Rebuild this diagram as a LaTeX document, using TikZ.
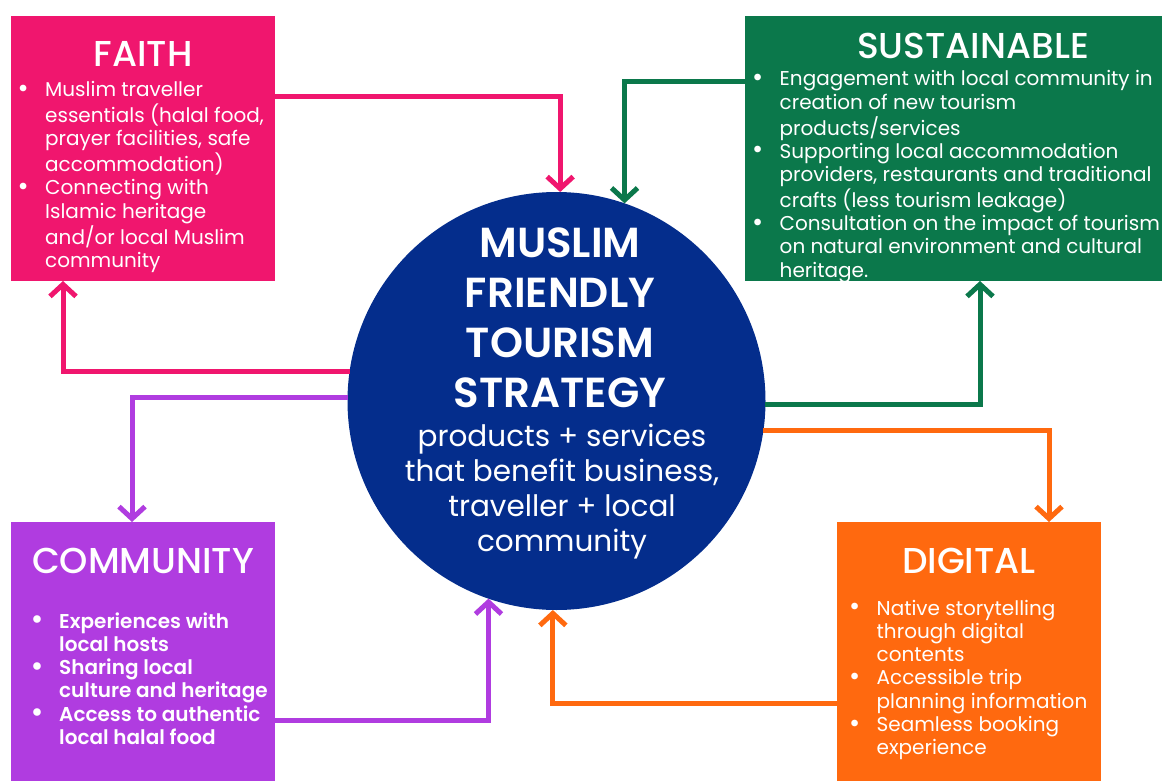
\documentclass[tikz,border=0pt]{standalone}
\usepackage{fontspec}
\setmainfont{Poppins}
\IfFontExistsTF{Poppins Medium}{\newfontfamily\pmed{Poppins Medium}}{\newfontfamily\pmed{Poppins}}
\IfFontExistsTF{Poppins SemiBold}{\newfontfamily\psemi{Poppins SemiBold}}{\newfontfamily\psemi{Poppins}[FakeBold=1.5]}
\usetikzlibrary{arrows.meta}
\definecolor{pk}{HTML}{F0166E}
\definecolor{gr}{HTML}{0B784B}
\definecolor{pu}{HTML}{B03CE0}
\definecolor{orr}{HTML}{FF690F}
\definecolor{nv}{HTML}{042D8C}
\newcommand\bl{\llap{\makebox[44pt][c]{\raisebox{-0.5pt}{\scalebox{1.35}{\textbullet}}}}}
\tikzset{
  box/.style={rectangle, inner sep=0pt, outer sep=0pt, minimum width=264pt, minimum height=265pt},
  ttl/.style={anchor=base, text=white, inner sep=0pt, font=\pmed\fontsize{36}{40}\selectfont},
  lst/.style={anchor=base west, text=white, inner sep=0pt, font=\fontsize{20}{23.3}\selectfont},
  conn/.style={line width=5pt, -{Straight Barb[length=12pt,width=26pt]}}
}
\begin{document}
\begin{tikzpicture}[x=1pt,y=-1pt]
\useasboundingbox (0,0) rectangle (1162,781);
\fill[white] (0,0) rectangle (1162,781);

% boxes
\node[box, fill=pk] (faith) at (143,148.5) {};
\node[box, fill=gr, minimum width=417pt] (sust) at (953.5,148.5) {};
\node[box, fill=pu, minimum height=259pt] (comm) at (143,651.5) {};
\node[box, fill=orr, minimum height=259pt] (digi) at (969,651.5) {};
\node[circle, fill=nv, minimum size=418pt, inner sep=0pt, outer sep=0pt] (c) at (556.5,401) {};

% titles
\node[ttl] (faithT) at (143,67) {FAITH};
\node[ttl] (sustT) at (973,59) {SUSTAINABLE};
\node[ttl] (commT) at (143,573) {COMMUNITY};
\node[ttl] (digiT) at (969,573) {DIGITAL};

% lists
\node[lst] (faithL) at (45,97) {\begin{tabular}[t]{@{}l@{}}
\bl Muslim traveller\\
essentials (halal food,\\
prayer facilities, safe\\
accommodation)\\
\bl Connecting with\\
Islamic heritage\\
and/or local Muslim\\
community\end{tabular}};
\node[lst] (sustL) at (779.5,86) {\begin{tabular}[t]{@{}l@{}}
\bl Engagement with local community in\\
creation of new tourism\\
products/services\\
\bl Supporting local accommodation\\
providers, restaurants and traditional\\
crafts (less tourism leakage)\\
\bl Consultation on the impact of tourism\\
on natural environment and cultural\\
heritage.\end{tabular}};
\node[lst, font=\psemi\fontsize{20}{23.3}\selectfont] (commL) at (59,628) {\begin{tabular}[t]{@{}l@{}}
\bl Experiences with\\
local hosts\\
\bl Sharing local\\
culture and heritage\\
\bl Access to authentic\\
local halal food\end{tabular}};
\node[lst] (digiL) at (876.5,615) {\begin{tabular}[t]{@{}l@{}}
\bl Native storytelling\\
through digital\\
contents\\
\bl Accessible trip\\
planning information\\
\bl Seamless booking\\
experience\end{tabular}};

% centre text
\node[anchor=base, text=white, inner sep=0pt, font=\psemi\fontsize{42}{50}\selectfont] (cT) at (560,257)
  {\begin{tabular}[t]{@{}c@{}}MUSLIM\\FRIENDLY\\TOURISM\\STRATEGY\end{tabular}};
\node[anchor=base, text=white, inner sep=0pt, font=\fontsize{29.5}{35}\selectfont] (cS) at (562,446)
  {\begin{tabular}[t]{@{}c@{}}products + services\\that benefit business,\\traveller + local\\community\end{tabular}};

% connectors
\draw[conn, pk] ([yshift=51.5pt]faith.east) -| (c.89.3);
\draw[conn, pk] (c.172.3) -| ([xshift=-80pt]faith.south);
\draw[conn, gr] ([yshift=66.5pt]sust.west) -| (c.71.7);
\draw[conn, gr] (c.359.2) -| ([xshift=26.5pt]sust.south);
\draw[conn, pu] (c.179.2) -| ([xshift=-11pt]comm.north);
\draw[conn, pu] ([yshift=-68.5pt]comm.east) -| (c.251.5);
\draw[conn, orr] (c.352.3) -| ([xshift=80pt]digi.north);
\draw[conn, orr] ([yshift=-51.5pt]digi.west) -| (c.269.3);
\end{tikzpicture}
\end{document}
